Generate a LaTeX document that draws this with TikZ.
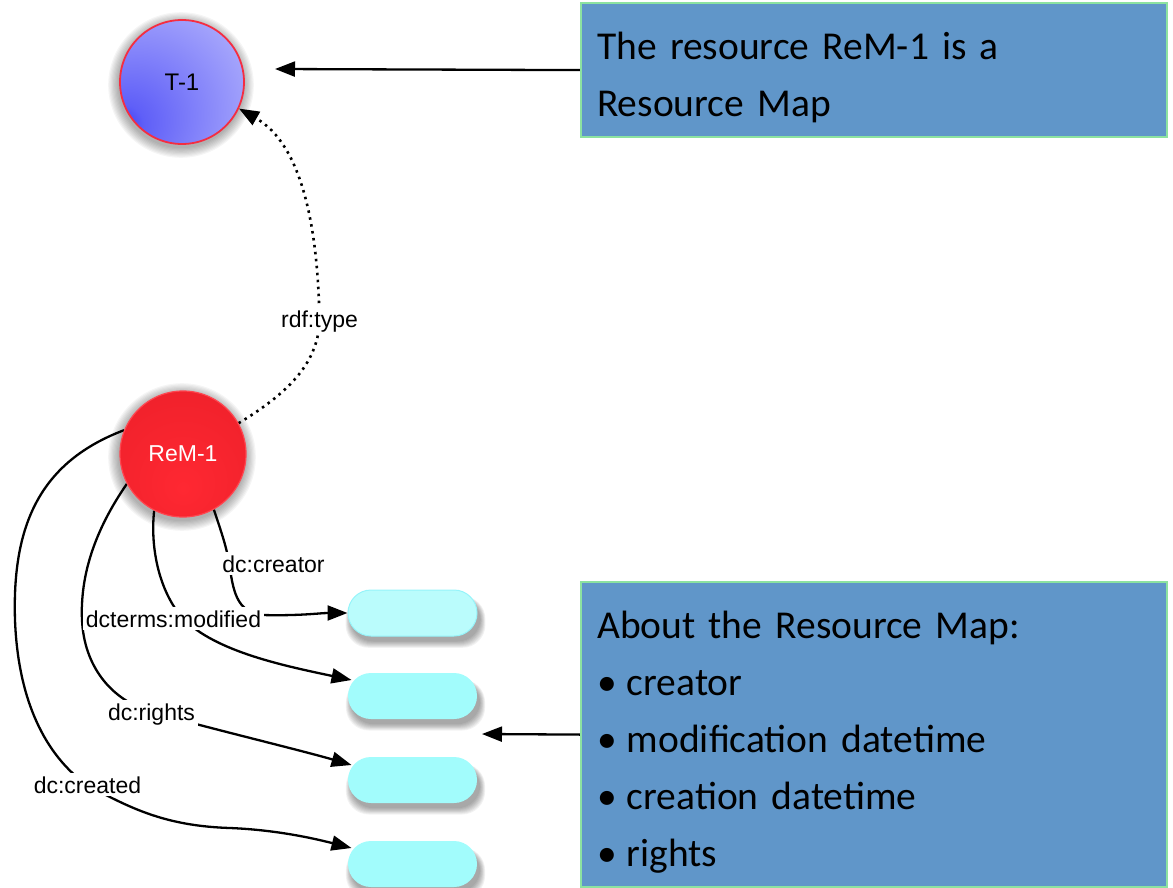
\documentclass[tikz,border=0pt]{standalone}
\usepackage{fontspec}
\setmainfont{Liberation Sans}
\newfontfamily\calib{Carlito}
\usetikzlibrary{arrows.meta,calc}

\definecolor{boxfill}{RGB}{96,150,201}
\definecolor{boxline}{RGB}{140,226,160}
\definecolor{pillfill}{RGB}{162,252,252}
\definecolor{pilllight}{RGB}{186,252,252}
\definecolor{pillline}{RGB}{150,244,250}
\definecolor{tborder}{RGB}{245,45,65}
\definecolor{rborder}{RGB}{255,70,80}
\definecolor{tcore}{RGB}{50,50,245}
\definecolor{tmidA}{RGB}{95,95,248}
\definecolor{tmidB}{RGB}{172,172,252}
\definecolor{tedge}{RGB}{218,218,253}
\definecolor{rcore}{RGB}{255,40,50}
\definecolor{rmid}{RGB}{242,34,44}
\definecolor{redge}{RGB}{200,26,36}

\pgfdeclareradialshading{tshade}{\pgfpoint{-26bp}{-19bp}}{color(0bp)=(tcore); color(8bp)=(tmidA); color(45bp)=(tmidB); color(85bp)=(tedge)}
\pgfdeclareradialshading{rshade}{\pgfpoint{0bp}{-14bp}}{color(0bp)=(rcore); color(30bp)=(rmid); color(70bp)=(redge)}

\pgfdeclarelayer{shadowlayer}
\pgfdeclarelayer{edgelayer}
\pgfsetlayers{shadowlayer,edgelayer,main}

\newcommand\pillshade[1]{%
  \foreach \k in {0,...,7}{%
    \fill[black,opacity=0.05,rounded corners=23pt]
      ($(#1.north west)+(3-\k*0.7,8-\k*0.2)$) rectangle ($(#1.south east)+(3+\k*0.7,5+\k*0.9)$);
  }%
}
\newcommand\circshade[2]{%
  \foreach \k in {1,...,9}{%
    \fill[black,opacity=0.04] ($(#1.center)+(-1,3)$) circle [radius={#2pt+\k*1.2pt}];
  }%
}

\begin{document}
\begin{tikzpicture}[x=1pt,y=-1pt,
  edge/.style={line width=2.3pt,black},
  arr/.style={-{Triangle[length=20pt,width=15pt]}},
  dots/.style={line width=2.6pt,dash pattern=on 2.5pt off 4.5pt},
  lbl/.style={fill=white,inner sep=3pt,anchor=base,font=\fontsize{23}{23}\selectfont},
  pill/.style={rectangle,rounded corners=23pt,minimum width=129pt,minimum height=46pt,inner sep=0pt,fill=pillfill},
  infobox/.style={rectangle,draw=boxline,line width=2.2pt,fill=boxfill,inner sep=0pt},
  boxtext/.style={anchor=base west,inner sep=0pt,text width=560pt,align=left,font=\calib\fontsize{39.5}{57}\selectfont}
]
\useasboundingbox (0,0) rectangle (1173,888);

% boxes
\node[infobox,anchor=north west,minimum width=586pt,minimum height=134pt] (b1) at (580,2) {};
\node[boxtext] (b1t) at (597,60) {The resource ReM-1 is a\\Resource Map};
\node[infobox,anchor=north west,minimum width=586pt,minimum height=305pt] (b2) at (580,581) {};
\node[boxtext] (b2t) at (597,638) {About the Resource Map:\\\textbullet\kern10pt creator\\\textbullet\kern10pt modification datetime\\\textbullet\kern10pt creation datetime\\\textbullet\kern10pt rights};

% circles
\node[circle,minimum size=124pt,inner sep=0pt,draw=tborder,line width=1.8pt,shading=tshade,font=\fontsize{24}{24}\selectfont] (t1) at (182,82) {T-1};
\node[circle,minimum size=126pt,inner sep=0pt,draw=rborder,line width=1.2pt,shading=rshade,text=white,font=\fontsize{23}{23}\selectfont] (rem) at (183,454) {ReM-1};

% pills
\node[pill,fill=pilllight,draw=pillline,line width=1pt] (p1) at (412.5,613) {};
\node[pill] (p2) at (412.5,696) {};
\node[pill] (p3) at (412.5,780) {};
\node[pill] (p4) at (412.5,864) {};

\coordinate (p2in) at ($(p2.center)+(-61,-16)$);
\coordinate (p3in) at ($(p3.center)+(-61,-15)$);
\coordinate (p4in) at ($(p4.center)+(-61,-16)$);
\coordinate (a1end) at (275,69);
\coordinate (a2end) at (482,734);

% labels
\node[lbl] (lrdf) at (319.5,327) {rdf:type};
\node[lbl] (lcreator) at (273.5,572) {dc:creator};
\node[lbl] (lmod) at (173.5,627) {dcterms:modified};
\node[lbl] (lrights) at (151.5,720) {dc:rights};
\node[lbl] (lcreated) at (87.5,793) {dc:created};

\begin{pgfonlayer}{shadowlayer}
  \circshade{t1}{62}
  \circshade{rem}{63}
  \pillshade{p1}
  \pillshade{p2}
  \pillshade{p3}
  \pillshade{p4}
\end{pgfonlayer}

\begin{pgfonlayer}{edgelayer}
  \draw[edge,dots,arr] (rem.29) .. controls (285,395) and (318,365) .. (lrdf.center)
        .. controls (318,230) and (303,145) .. (t1.-25);
  \draw[edge,arr] (rem.-61) .. controls (220,528) and (226,545) .. (229,562)
        .. controls (233,590) and (236,612) .. (262,615)
        .. controls (300,616) and (320,613) .. (p1.west);
  \draw[edge,arr] (rem.-117) .. controls (150,550) and (160,590) .. (180,615)
        .. controls (210,650) and (280,665) .. (p2in);
  \draw[edge,arr] (rem.208) .. controls (95,530) and (80,575) .. (82,620)
        .. controls (84,665) and (110,700) .. (152,712)
        .. controls (200,726) and (300,750) .. (p3in);
  \draw[edge,arr] (rem.158) .. controls (40,462) and (12,525) .. (15,620)
        .. controls (18,700) and (45,755) .. (87,785)
        .. controls (130,808) and (165,826) .. (230,828)
        .. controls (280,830) and (320,840) .. (p4in);
  \draw[edge,arr] (b1.west) -- (a1end);
  \draw[edge,arr] (b2.west) -- (a2end);
\end{pgfonlayer}
\end{tikzpicture}
\end{document}
